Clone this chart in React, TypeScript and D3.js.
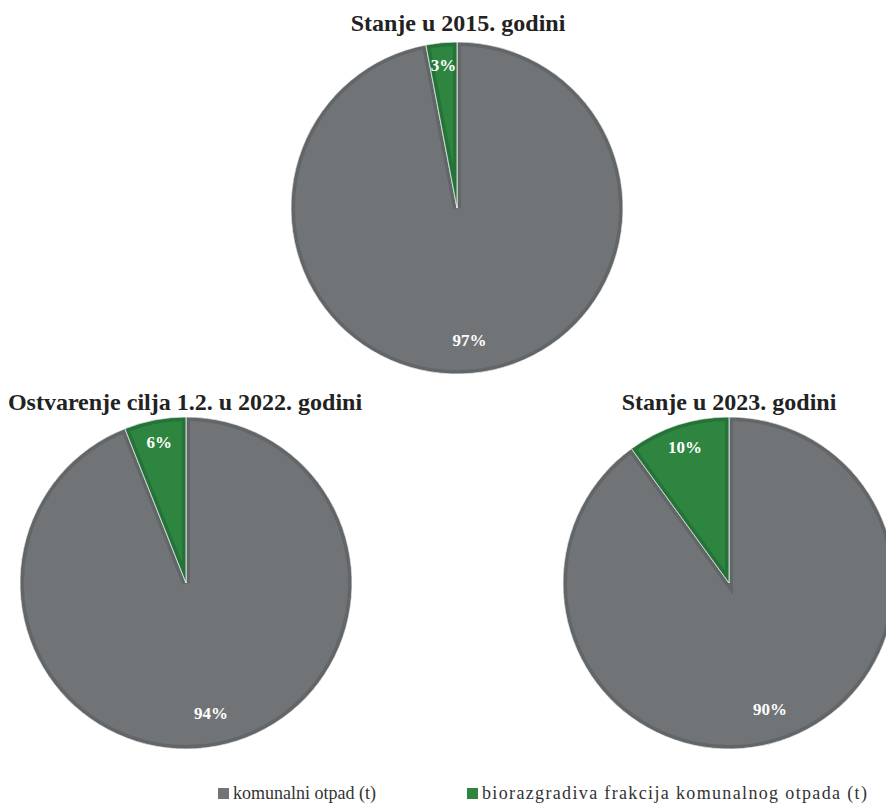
import * as d3 from 'd3';
import { useEffect } from 'react';

// categories and values per chart (percent shares)
const categories = ['komunalni otpad (t)', 'biorazgradiva frakcija komunalnog otpada (t)'];
const chartTitles = ['Stanje u 2015. godini', 'Ostvarenje cilja 1.2. u 2022. godini', 'Stanje u 2023. godini'];
const komunalni = [97, 94, 90];
const biorazgradivo = [3, 6, 10];

const fills = ['#717476', '#2e8540'];
const borders = ['#636668', '#26733a'];

const W = 886;
const H = 812;
const R = 166;

// pie layout: centres in the figure
const layout = [
  { cx: 457, cy: 208, tx: 458, ty: 31 },
  { cx: 186, cy: 583, tx: 185, ty: 410 },
  { cx: 729, cy: 583, tx: 729, ty: 410 },
];

const serif = '"Liberation Serif", "Times New Roman", serif';

export default function App() {
  useEffect(() => {
    document.body.style.margin = '0';
  }, []);

  const pie = d3.pie<number>().sort(null).value((d) => d);
  const arc = d3.arc<d3.PieArcDatum<number>>().innerRadius(0).outerRadius(R);
  const labelArc = (f: number) =>
    d3.arc<d3.PieArcDatum<number>>().innerRadius(R * f).outerRadius(R * f);

  return (
    <svg width={W} height={H} style={{ display: 'block' }} fontFamily={serif}>
      <rect width={W} height={H} fill="#fff" />
      {chartTitles.map((title, ci) => {
        const { cx, cy, tx, ty } = layout[ci];
        const arcs = pie([komunalni[ci], biorazgradivo[ci]]);
        return (
          <g key={title}>
            <text x={tx} y={ty} textAnchor="middle" fontSize={24} fontWeight="bold" fill="#222">
              {title}
            </text>
            <g transform={`translate(${cx},${cy})`}>
              {arcs.map((a, i) => {
                const id = `clip-${ci}-${i}`;
                const d = arc(a) ?? '';
                return (
                  <g key={i}>
                    <clipPath id={id}>
                      <path d={d} />
                    </clipPath>
                    <path d={d} fill={fills[i]} />
                    <path d={d} fill="none" stroke={borders[i]} strokeWidth={8} clipPath={`url(#${id})`} />
                    <path d={d} fill="none" stroke="#fff" strokeWidth={1} strokeOpacity={0.7} />
                  </g>
                );
              })}
              {arcs.map((a, i) => {
                const [lx, ly] = labelArc(i === 0 ? 0.8 : 0.86).centroid(a);
                return (
                  <text
                    key={`l${i}`}
                    x={lx}
                    y={ly}
                    textAnchor="middle"
                    dominantBaseline="central"
                    fontSize={17}
                    fontWeight="bold"
                    fill="#fff"
                  >
                    {`${a.data}%`}
                  </text>
                );
              })}
            </g>
          </g>
        );
      })}
      {categories.map((c, i) => {
        const x = [218, 467][i];
        return (
          <g key={c} transform={`translate(${x},788)`}>
            <rect width={11} height={11} fill={fills[i]} />
            <text x={15} y={11} fontSize={18} fill="#333" letterSpacing={i === 1 ? 1.35 : 0}>
              {c}
            </text>
          </g>
        );
      })}
    </svg>
  );
}
